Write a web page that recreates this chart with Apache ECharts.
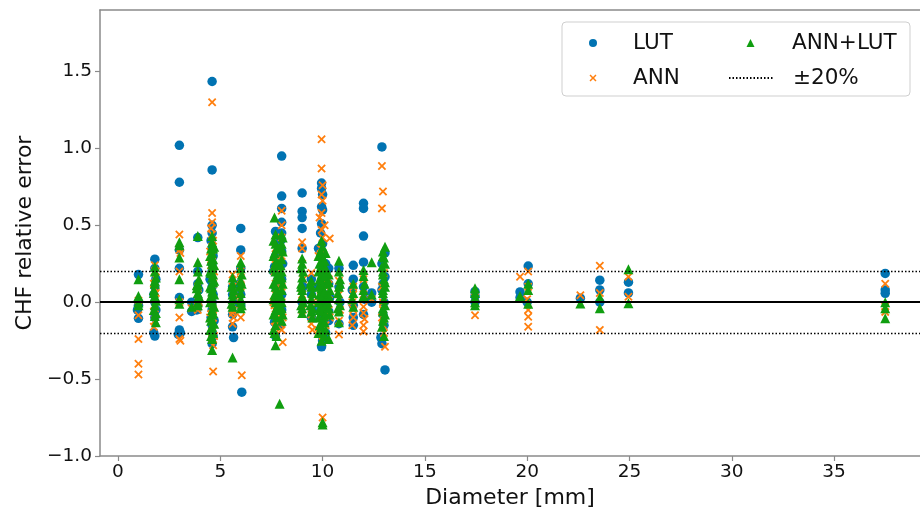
<!DOCTYPE html>
<html><head><meta charset="utf-8">
<script src="https://cdn.jsdelivr.net/npm/echarts@6/dist/echarts.min.js"></script>
<style>html,body{margin:0;padding:0;background:#fff}#c{width:920px;height:514px}</style>
</head><body><div id="c"></div>
<script>
const seriesNames = ['LUT', 'ANN', 'ANN+LUT', '±20%'];
const xTicks = [0, 5, 10, 15, 20, 25, 30, 35];
const yTicks = [-1, -0.5, 0, 0.5, 1, 1.5];
const bandLevels = [0.2, -0.2];
const zeroLevel = [0];

const lut = [
[1.0,0.18],[1.0,0.0],[1.0,-0.02],[1.0,-0.105],[0.95,-0.05],
[1.8,0.28],[1.8,0.22],[1.85,0.15],[1.8,0.1],[1.75,0.05],[1.8,0.0],[1.85,-0.05],[1.8,-0.1],[1.75,-0.2],[1.8,-0.22],
[3.0,1.02],[3.0,0.78],[3.0,0.34],[3.0,0.22],[3.0,0.03],[3.0,-0.18],[3.05,-0.2],[2.95,-0.21],
[3.6,-0.06],[3.6,0.0],
[3.9,0.42],[3.9,0.2],[3.9,0.12],[3.95,0.08],[3.9,0.02],[3.9,-0.02],[3.85,-0.05],
[4.6,1.435],[4.6,0.86],[4.6,0.5],[4.6,0.45],[4.55,0.4],[4.6,0.35],[4.65,0.3],[4.6,0.25],[4.6,0.2],[4.55,0.14],[4.6,0.1],[4.65,0.05],[4.6,0.0],[4.6,-0.05],[4.55,-0.1],[4.6,-0.15],[4.6,-0.2],[4.65,-0.22],[4.6,-0.27],
[4.5,0.15],[4.7,-0.12],
[5.6,0.1],[5.6,0.05],[5.65,0.0],[5.6,-0.08],[5.6,-0.16],[5.65,-0.23],
[6.0,0.48],[6.0,0.34],[6.0,0.22],[5.95,0.12],[6.0,0.05],[6.0,-0.02],[6.05,-0.585],
[7.7,0.46],[7.7,0.3],[7.65,0.23],[7.7,0.1],[7.7,0.0],[7.65,-0.13],[7.7,-0.22],
[7.6,0.2],[7.85,0.1],
[8.0,0.95],[8.0,0.69],[8.0,0.61],[8.0,0.52],[8.0,0.45],[7.95,0.4],[8.0,0.33],[8.05,0.25],[8.0,0.15],[8.0,0.05],[8.0,-0.05],[7.95,-0.15],
[9.0,0.71],[9.0,0.59],[9.0,0.55],[9.0,0.48],[9.0,0.35],[9.05,0.1],[9.0,0.0],
[9.45,0.15],[9.45,0.05],[9.5,-0.05],[9.45,-0.1],
[9.95,0.775],[9.95,0.74],[10.0,0.7],[9.95,0.62],[10.0,0.6],[9.95,0.51],[9.9,0.45],[10.0,0.38],[9.95,0.3],[10.05,0.22],[9.95,0.14],[10.0,0.06],[9.9,-0.02],[10.0,-0.1],[9.95,-0.18],[10.0,-0.25],[9.95,-0.29],
[9.8,0.35],[10.15,0.25],[10.15,-0.2],[9.8,0.1],
[10.3,0.22],[10.3,0.12],[10.35,0.03],[10.3,-0.06],[10.3,-0.12],
[10.8,0.22],[10.8,0.1],[10.85,0.0],[10.8,-0.14],
[11.5,0.24],[11.5,0.15],[11.45,0.08],[11.5,-0.02],[11.5,-0.1],[11.5,-0.15],
[12.0,0.643],[12.0,0.61],[12.0,0.43],[12.0,0.26],[12.0,0.1],[12.05,0.02],[12.0,-0.08],
[12.4,0.06],[12.4,0.0],
[12.9,1.01],[13.05,0.32],[12.9,0.25],[13.05,0.165],[12.9,0.08],[13.0,0.0],[12.95,-0.08],[12.85,-0.23],[12.9,-0.27],[13.05,-0.44],
[12.95,0.12],[13.0,-0.15],
[17.45,0.07],[17.45,0.04],[17.45,0.0],
[20.05,0.235],[20.05,0.12],[19.65,0.067],[19.65,0.03],[20.0,0.0],
[22.6,0.026],
[23.55,0.143],[23.55,0.08],[23.55,0.0],
[24.95,0.13],[24.95,0.06],
[37.5,0.187],[37.5,0.08],[37.5,0.058]
];

const ann = [
[1.0,0.01],[1.0,-0.085],[1.0,-0.24],[1.0,-0.40],[1.0,-0.47],
[1.8,0.24],[1.85,0.2],[1.8,0.16],[1.75,0.12],[1.8,0.09],[1.85,0.06],[1.8,0.03],[1.8,-0.02],[1.75,-0.06],[1.8,-0.12],[1.75,-0.16],
[1.8,-0.08],[1.75,0.02],
[3.0,0.44],[3.0,0.34],[3.05,0.32],[3.0,0.2],[3.0,0.0],[3.0,-0.1],[3.0,-0.24],[3.05,-0.25],
[3.6,-0.04],
[3.9,0.1],[3.9,0.05],[3.95,0.0],[3.9,-0.03],[3.9,-0.05],
[4.6,1.30],[4.6,0.58],[4.6,0.52],[4.55,0.48],[4.6,0.44],[4.65,0.4],[4.6,0.36],[4.6,0.3],[4.55,0.24],[4.6,0.18],[4.65,0.12],[4.6,0.06],[4.6,0.01],[4.55,-0.04],[4.6,-0.09],[4.65,-0.14],[4.6,-0.19],[4.6,-0.24],[4.65,-0.28],[4.65,-0.45],
[4.5,0.33],[4.7,0.2],[4.5,-0.1],[4.7,-0.22],[4.55,0.0],[4.65,-0.05],
[5.6,0.18],[5.6,0.1],[5.65,0.04],[5.6,-0.02],[5.6,-0.05],[5.6,-0.07],[5.65,-0.1],[5.6,-0.14],
[6.0,0.3],[6.0,0.2],[6.0,0.15],[6.0,0.1],[5.95,0.02],[6.0,-0.05],[6.0,-0.1],[6.05,-0.475],
[7.7,0.35],[7.7,0.28],[7.65,0.2],[7.7,0.12],[7.7,0.05],[7.65,-0.02],[7.7,-0.08],[7.7,-0.12],[7.65,-0.16],[7.7,-0.2],
[7.6,0.0],[7.8,-0.1],[7.9,-0.14],[7.75,-0.06],
[8.0,0.595],[8.0,0.5],[8.0,0.42],[8.0,0.3],[7.95,0.2],[8.0,0.1],[8.0,0.0],[8.05,-0.1],[8.0,-0.18],[8.05,-0.26],
[9.0,0.39],[9.0,0.35],[9.0,0.25],[9.05,0.15],[9.0,0.05],[9.0,-0.05],
[9.45,0.19],[9.45,0.1],[9.5,0.0],[9.45,-0.08],[9.45,-0.14],[9.5,-0.18],
[9.95,1.06],[9.95,0.87],[10.0,0.76],[9.95,0.7],[10.0,0.66],[9.95,0.58],[9.95,0.47],[10.0,0.42],[9.9,0.35],[9.95,0.27],[10.0,0.2],[9.95,0.12],[10.05,0.04],[9.95,-0.04],[10.0,-0.12],[9.95,-0.17],[10.0,-0.22],[10.0,-0.75],
[9.8,0.3],[10.15,0.1],[10.15,-0.15],[9.8,-0.2],[10.1,0.5],[9.85,0.55],[9.85,0.0],[10.1,-0.05],[9.9,0.08],
[10.35,0.415],[10.3,0.15],[10.3,0.05],[10.3,-0.05],[10.35,-0.1],
[10.8,0.14],[10.8,0.05],[10.85,-0.05],[10.8,-0.12],[10.8,-0.21],
[11.5,0.1],[11.5,0.05],[11.45,0.0],[11.5,-0.05],[11.5,-0.1],[11.45,-0.15],
[12.0,0.15],[12.0,0.05],[12.0,-0.03],[12.0,-0.07],[12.05,-0.11],[12.0,-0.15],[12.0,-0.19],
[12.4,0.02],
[12.9,0.886],[12.95,0.72],[12.9,0.61],[13.0,0.19],[12.9,0.1],[12.95,0.0],[12.9,-0.1],[12.95,-0.15],[13.05,-0.29],
[12.95,-0.05],[13.0,-0.2],
[17.45,0.03],[17.45,-0.085],
[19.65,0.165],[20.05,0.2],[20.05,0.1],[20.0,0.02],[20.05,-0.05],[20.05,-0.095],[20.05,-0.16],
[22.6,0.045],
[23.55,0.237],[23.55,0.06],[23.55,-0.18],
[24.95,0.165],[24.95,0.035],
[37.5,0.12],[37.5,-0.03],[37.5,-0.063]
];

const annLut = [
[1.0,0.15],[1.0,0.04],[1.0,0.0],[1.0,-0.02],
[1.8,0.23],[1.8,0.2],[1.85,0.16],[1.8,0.12],[1.75,0.08],[1.8,0.04],[1.85,0.01],[1.8,-0.02],[1.75,-0.05],[1.8,-0.09],[1.85,-0.13],
[1.8,0.14],[1.75,0.06],[1.85,-0.07],
[3.0,0.39],[3.0,0.37],[3.0,0.29],[3.0,0.15],[3.0,0.02],[3.0,-0.01],
[3.6,-0.03],
[3.9,0.43],[3.9,0.26],[3.9,0.2],[3.95,0.15],[3.9,0.12],[3.85,0.09],[3.9,0.06],[3.95,0.03],[3.9,0.0],[3.9,-0.02],
[3.85,0.11],[3.95,0.04],
[4.6,0.43],[4.6,0.39],[4.55,0.35],[4.6,0.32],[4.65,0.28],[4.6,0.25],[4.6,0.22],[4.55,0.19],[4.6,0.16],[4.65,0.13],[4.6,0.1],[4.6,0.07],[4.55,0.04],[4.6,0.01],[4.65,-0.02],[4.6,-0.05],[4.6,-0.08],[4.55,-0.12],[4.6,-0.16],[4.65,-0.2],[4.6,-0.24],[4.6,-0.31],
[4.5,0.3],[4.5,0.2],[4.5,0.1],[4.5,0.0],[4.5,-0.1],[4.5,-0.18],
[4.7,0.36],[4.7,0.24],[4.7,0.14],[4.7,0.05],[4.7,-0.03],[4.7,-0.14],
[4.65,0.35],[4.55,0.27],[4.65,0.18],[4.55,0.09],[4.65,-0.07],[4.55,-0.22],
[5.6,0.16],[5.6,0.12],[5.65,0.08],[5.6,0.05],[5.6,0.02],[5.55,-0.01],[5.6,-0.03],[5.6,-0.36],
[5.55,0.1],
[6.0,0.26],[6.0,0.22],[6.05,0.18],[6.0,0.14],[5.95,0.1],[6.0,0.06],[6.0,0.02],[6.05,-0.02],[6.0,-0.04],
[6.05,0.12],[6.0,0.0],
[7.65,0.55],[7.7,0.44],[7.7,0.38],[7.65,0.32],[7.7,0.26],[7.7,0.2],[7.75,0.15],[7.7,0.1],[7.65,0.05],[7.7,0.0],[7.7,-0.05],[7.75,-0.1],[7.7,-0.15],[7.65,-0.2],[7.7,-0.28],
[7.6,0.4],[7.6,0.3],[7.6,0.22],[7.6,0.12],[7.6,0.02],[7.6,-0.08],[7.6,-0.18],
[7.85,0.35],[7.85,0.25],[7.85,0.15],[7.85,0.05],[7.85,-0.05],
[7.75,0.35],[7.75,0.25],[7.8,0.18],[7.75,0.06],[7.8,-0.02],[7.75,-0.22],
[8.0,0.44],[8.0,0.38],[8.05,0.33],[8.0,0.28],[7.95,0.24],[8.0,0.2],[8.0,0.16],[8.05,0.12],[8.0,0.08],[7.95,0.04],[8.0,0.0],[8.0,-0.04],[8.05,-0.08],[8.0,-0.12],[7.9,-0.66],
[8.0,0.35],[8.05,0.42],
[9.0,0.285],[9.0,0.25],[9.05,0.2],[9.0,0.16],[8.95,0.12],[9.0,0.08],[9.0,0.04],[9.05,0.0],[9.0,-0.04],[9.0,-0.07],
[8.95,0.22],[8.95,0.1],[8.95,-0.02],
[9.45,0.14],[9.45,0.1],[9.5,0.06],[9.45,0.02],[9.4,-0.02],[9.45,-0.06],[9.5,-0.1],
[9.4,0.12],[9.5,-0.04],
[9.95,0.40],[10.0,0.36],[9.9,0.33],[9.95,0.3],[10.0,0.27],[9.95,0.24],[10.05,0.21],[9.95,0.18],[9.9,0.15],[10.0,0.12],[9.95,0.09],[10.05,0.06],[9.95,0.03],[10.0,0.0],[9.9,-0.03],[9.95,-0.06],[10.05,-0.09],[10.0,-0.12],[9.95,-0.16],[10.0,-0.2],[9.95,-0.25],[10.0,-0.78],[10.0,-0.795],
[9.8,0.3],[9.8,0.2],[9.8,0.1],[9.8,0.0],[9.8,-0.1],[9.8,-0.2],
[10.15,0.32],[10.15,0.22],[10.15,0.12],[10.15,0.02],[10.15,-0.08],[10.15,-0.18],
[9.85,0.25],[9.85,0.15],[9.85,0.05],[9.85,-0.05],[9.85,-0.15],
[10.1,0.27],[10.1,0.17],[10.1,0.07],[10.1,-0.03],[10.1,-0.13],[10.1,-0.22],
[10.3,0.18],[10.3,0.13],[10.35,0.08],[10.3,0.04],[10.25,0.0],[10.3,-0.04],[10.35,-0.08],[10.3,-0.24],
[10.8,0.27],[10.8,0.2],[10.85,0.15],[10.8,0.1],[10.75,0.06],[10.8,0.02],[10.85,-0.02],[10.8,-0.06],[10.8,-0.13],
[10.85,0.12],[10.75,-0.04],
[11.5,0.12],[11.5,0.06],[11.45,0.02],[11.5,-0.03],
[12.0,0.21],[12.0,0.17],[12.05,0.12],[12.0,0.08],[12.0,0.04],
[12.4,0.26],[12.4,0.05],
[13.05,0.36],[12.95,0.33],[13.0,0.29],[13.05,0.25],[12.95,0.2],[13.0,0.15],[13.05,0.1],[12.95,0.06],[13.0,0.02],[13.05,-0.02],[12.95,-0.06],[13.0,-0.1],[12.9,-0.16],[13.0,-0.22],
[12.95,0.3],[12.95,0.18],[12.95,0.08],[12.95,-0.04],[12.95,-0.12],
[12.9,0.23],[13.05,0.13],[13.05,-0.08],
[17.45,0.09],[17.45,0.06],[17.45,0.03],[17.45,0.0],[17.45,-0.02],
[20.05,0.12],[20.05,0.08],[19.65,0.04],[20.05,-0.01],
[22.6,-0.008],
[23.55,0.03],[23.55,-0.04],
[24.95,0.215],[24.95,-0.007],
[37.5,0.0],[37.5,-0.04],[37.5,-0.105]
];

const FONT = 'DejaVu Sans';
const TXT = '#111';
const SPINE = '#8a8a8a';
const X_MIN = -0.88, X_MAX = 39.2;
const Y_MIN = -1.0, Y_MAX = 1.9;
const C_LUT = '#0173b2', C_ANN = '#ff7f0e', C_AL = '#109e10';
const crossPath = 'path://M1.5,0L5,3.5L8.5,0L10,1.5L6.5,5L10,8.5L8.5,10L5,6.5L1.5,10L0,8.5L3.5,5L0,1.5Z';
const fmtY = v => (v < 0 ? '\u2212' : '') + Math.abs(v).toFixed(1);

function legendAt(name, left, top, w, h, padLeft, extra) {
  return Object.assign({
    data: [name], orient: 'vertical', left: left, top: top, padding: 0,
    itemWidth: w, itemHeight: h, selectedMode: false,
    textStyle: {fontFamily: FONT, fontSize: 21.5, color: TXT, padding: [0, 0, 0, padLeft], lineHeight: 22}
  }, extra || {});
}

const chart = echarts.init(document.getElementById('c'), null, {renderer: 'canvas'});
chart.setOption({
  animation: false,
  backgroundColor: '#fff',
  grid: {left: 100, top: 10, right: 0, bottom: 58, containLabel: false},
  graphic: [{
    type: 'rect', z: 3,
    shape: {x: 562, y: 22, width: 348, height: 74, r: 4},
    style: {fill: 'rgba(255,255,255,0.85)', stroke: '#cfcfcf', lineWidth: 1}
  }],
  legend: [
    legendAt(seriesNames[0], 589, 32, 8, 8, 31),
    legendAt(seriesNames[1], 589.5, 67, 7, 7, 31.5),
    legendAt(seriesNames[2], 746.5, 32, 8, 8, 32.5),
    legendAt(seriesNames[3], 728, 67, 45, 8, 14, {itemStyle: {color: 'rgba(0,0,0,0)', borderWidth: 0, opacity: 0}})
  ],
  xAxis: [{
    type: 'value', min: X_MIN, max: X_MAX, position: 'bottom',
    name: 'Diameter [mm]', nameLocation: 'middle', nameGap: 27,
    nameTextStyle: {fontFamily: FONT, fontSize: 22, color: TXT},
    splitLine: {show: false},
    axisLine: {show: true, onZero: false, lineStyle: {color: SPINE, width: 1.5}},
    axisTick: {show: true, length: 5, customValues: xTicks, lineStyle: {color: SPINE, width: 1.2}},
    axisLabel: {customValues: xTicks, margin: 7, fontFamily: FONT, fontSize: 18.5, color: TXT}
  }, {
    type: 'value', min: X_MIN, max: X_MAX, position: 'top',
    splitLine: {show: false},
    axisLine: {show: true, onZero: false, lineStyle: {color: SPINE, width: 1.5}},
    axisTick: {show: false}, axisLabel: {show: false}
  }],
  yAxis: {
    type: 'value', min: Y_MIN, max: Y_MAX,
    name: 'CHF relative error', nameLocation: 'middle', nameGap: 56, nameRotate: 90,
    nameTextStyle: {fontFamily: FONT, fontSize: 22, color: TXT},
    splitLine: {show: false},
    axisLine: {show: true, onZero: false, lineStyle: {color: SPINE, width: 1.5}},
    axisTick: {show: true, length: 5, customValues: yTicks, lineStyle: {color: SPINE, width: 1.2}},
    axisLabel: {customValues: yTicks, margin: 8, fontFamily: FONT, fontSize: 18.5, color: TXT, formatter: fmtY}
  },
  series: [
    {name: seriesNames[0], type: 'scatter', data: lut, symbol: 'circle', symbolSize: 9.5,
     itemStyle: {color: C_LUT, opacity: 1}, xAxisIndex: 0},
    {name: seriesNames[1], type: 'scatter', data: ann, symbol: crossPath, symbolSize: 8.5,
     itemStyle: {color: C_ANN, opacity: 1}, xAxisIndex: 0},
    {name: seriesNames[2], type: 'scatter', data: annLut, symbol: 'triangle', symbolSize: 10,
     itemStyle: {color: C_AL, opacity: 1}, xAxisIndex: 0},
    {name: seriesNames[3], type: 'line', data: [], showSymbol: false, symbol: 'none', xAxisIndex: 0,
     color: '#000', lineStyle: {color: '#000', type: [1.5, 2], width: 1.3},
     markLine: {silent: true, symbol: 'none', label: {show: false}, z: 6,
       lineStyle: {color: '#000', type: [1.5, 2], width: 1.3},
       data: bandLevels.map(v => ({yAxis: v}))}},
    {name: 'zero', type: 'line', data: [], showSymbol: false, symbol: 'none', xAxisIndex: 0,
     markLine: {silent: true, symbol: 'none', label: {show: false}, z: 6,
       lineStyle: {color: '#000', type: 'solid', width: 1.8},
       data: zeroLevel.map(v => ({yAxis: v}))}}
  ]
});
</script>
</body></html>
